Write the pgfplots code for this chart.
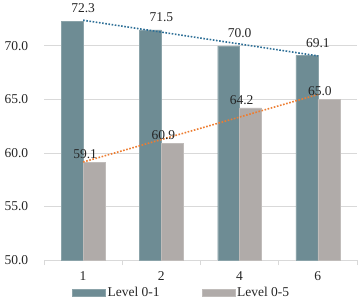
\documentclass[border=0pt]{standalone}
\usepackage{pgfplots}
\pgfplotsset{compat=1.18}
\usepackage{fontspec}
\setmainfont{Liberation Serif}
\definecolor{tealc}{HTML}{6E8C94}
\definecolor{grayc}{HTML}{B0ABA9}
\definecolor{bluc}{HTML}{2C6E96}
\definecolor{orac}{HTML}{ED7D31}
\definecolor{gridc}{HTML}{D9D9D9}
\definecolor{txtc}{HTML}{262626}
\newcommand{\lf}{\fontsize{13.5}{16}\selectfont}
\begin{document}
\begin{tikzpicture}
\begin{axis}[
  at={(44pt,43pt)}, anchor=south west,
  scale only axis, width=313pt, height=257pt,
  xmin=-0.5, xmax=3.5, ymin=50, ymax=74,
  xtick={0,1,2,3}, xticklabels={1,2,4,6},
  minor xtick={-0.5,0.5,1.5,2.5,3.5},
  major x tick style={draw=none},
  minor x tick style={draw=gridc, line width=0.8pt},
  minor tick length=5pt,
  tick align=outside,
  ytick={50,55,60,65,70},
  ytick style={draw=none},
  ymajorgrids, grid style={draw=gridc, line width=0.8pt},
  axis x line*=bottom, axis y line*=left,
  y axis line style={draw=none},
  x axis line style={draw=gridc, line width=0.8pt, -},
  y tick label style={/tikz/xshift=-8pt, /pgf/number format/.cd, fixed, precision=1, zerofill},
  /pgf/number format/assume math mode=true,
  tick label style={font=\lf, text=txtc},
  x tick label style={/tikz/yshift=-4pt},
  legend style={at={(0.44,-0.128)}, anchor=center, draw=none, legend columns=2,
    font=\lf, text=txtc, inner sep=0pt,
    /tikz/every even column/.append style={column sep=40pt}},
  legend image code/.code={\fill[#1] (0pt,-3.5pt) rectangle (33pt,3.5pt);},
]
\addplot[ybar, bar width=0.28, bar shift=-0.14, fill=tealc, draw=tealc!80!white,
  nodes near coords,
  every node near coord/.append style={/tikz/yshift=4.5pt, /tikz/font=\lf, /tikz/text=txtc,
    /pgf/number format/.cd, fixed, precision=1, zerofill, assume math mode=true}]
  coordinates {(0,72.3) (1,71.5) (2,70.0) (3,69.1)};
\addlegendentry{Level 0-1}
\addplot[ybar, bar width=0.28, bar shift=0.14, fill=grayc, draw=grayc!80!white,
  nodes near coords,
  every node near coord/.append style={/tikz/xshift=2pt, /tikz/yshift=0pt, /tikz/font=\lf, /tikz/text=txtc,
    /pgf/number format/.cd, fixed, precision=1, zerofill, assume math mode=true}]
  coordinates {(0,59.1) (1,60.9) (2,64.2) (3,65.0)};
\addlegendentry{Level 0-5}
% linear trendlines
\addplot[forget plot, bluc, line width=1.6pt, dash pattern=on 1.6pt off 1.6pt] coordinates {(0,72.39) (3,69.06)};
\addplot[forget plot, orac, line width=1.6pt, dash pattern=on 1.6pt off 1.6pt] coordinates {(0,59.15) (3,65.45)};
\end{axis}
\pgfresetboundingbox
\path[use as bounding box] (0,0) rectangle (359pt,303pt);
\end{tikzpicture}
\end{document}
